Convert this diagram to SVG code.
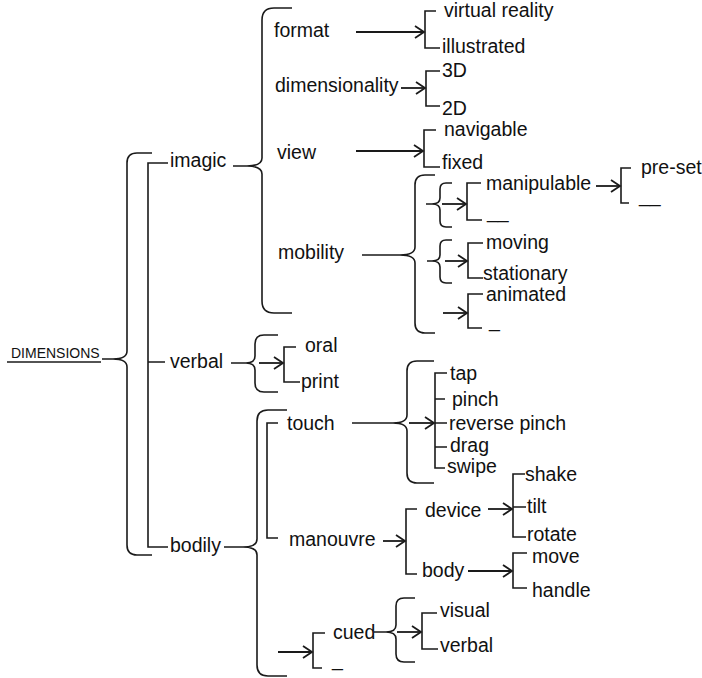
<svg xmlns="http://www.w3.org/2000/svg" width="702" height="678" viewBox="0 0 702 678">
<defs>
<style>
.ln{fill:none;stroke:#1a1a1a;stroke-width:1.6;stroke-linecap:butt}
.ar{fill:none;stroke:#1a1a1a;stroke-width:1.8;marker-end:url(#ah)}
text{font-family:"Liberation Sans",Arial,sans-serif;font-size:19.5px;fill:#111}
.small{font-size:14px}
</style>
<marker id="ah" markerUnits="userSpaceOnUse" markerWidth="14" markerHeight="16" refX="10" refY="7" orient="auto" overflow="visible">
<path d="M1 1 L10 7 L1 13" fill="none" stroke="#1a1a1a" stroke-width="1.8"/>
</marker>
</defs>
<rect width="702" height="678" fill="#fff"/>

<g id="connectors">
<!-- braces -->
<path class="ln" d="M102 359 L113 359 M152 153 L137 153 Q127 153 127 163 L127 351 Q127 359 113 359 Q127 359 127 367 L127 545 Q127 555 137 555 L152 555"/>
<path class="ln" d="M168 163 L148 163 L148 547 L168 547 M148 362 L165 362"/>
<path class="ln" d="M233 166 L247 166 M292 8 L274 8 Q262 8 262 20 L262 158 Q262 166 247 166 Q262 166 262 174 L262 301 Q262 313 274 313 L292 313"/>
<path class="ln" d="M362 255 L400 255 M435 175 L425 175 Q415 175 415 185 L415 247 Q415 255 400 255 Q415 255 415 263 L415 323 Q415 333 425 333 L435 333"/>
<path class="ln" d="M426 204 L432 204 M452 183 L446 183 Q440 183 440 189 L440 198 Q440 204 432 204 Q440 204 440 210 L440 221 Q440 227 446 227 L452 227"/>
<path class="ln" d="M427 261 L432 261 M452 240 L446 240 Q440 240 440 246 L440 255 Q440 261 432 261 Q440 261 440 267 L440 277 Q440 283 446 283 L452 283"/>
<path class="ln" d="M231 363 L246 363 M278 335 L264 335 Q255 335 255 344 L255 356 Q255 363 246 363 Q255 363 255 370 L255 383 Q255 392 264 392 L278 392"/>
<path class="ln" d="M224 547 L243 547 M287 410 L268 410 Q257 410 257 421 L257 539 Q257 547 243 547 Q257 547 257 555 L257 665 Q257 676 268 676 L287 676"/>
<path class="ln" d="M352 423 L393 423 M434 361 L417 361 Q407 361 407 371 L407 415 Q407 423 393 423 Q407 423 407 431 L407 473 Q407 483 417 483 L434 483"/>
<path class="ln" d="M374 632 L386 632 M415 598 L404 598 Q396 598 396 606 L396 625 Q396 632 386 632 Q396 632 396 639 L396 654 Q396 662 404 662 L415 662"/>
<!-- brackets -->
<path class="ln" d="M436 11 L425 11 L425 48 L440 48"/>
<path class="ln" d="M440 71 L426 71 L426 106 L440 106"/>
<path class="ln" d="M436 130 L424 130 L424 167 L440 167"/>
<path class="ln" d="M481 183 L467 183 L467 220 L482 220"/>
<path class="ln" d="M483 243 L468 243 L468 278 L483 278"/>
<path class="ln" d="M483 294 L468 294 L468 328 L482 328"/>
<path class="ln" d="M631 168 L621 168 L621 203 L629 203"/>
<path class="ln" d="M296 347 L284 347 L284 382 L300 382"/>
<path class="ln" d="M278 423 L267 423 L267 538 L278 538"/>
<path class="ln" d="M447 373 L435 373 L435 468 L445 468 M435 399 L445 399 M435 423 L447 423 M435 447 L447 447"/>
<path class="ln" d="M417 509 L406 509 L406 574 L417 574"/>
<path class="ln" d="M525 474 L513 474 L513 537 L526 537 M513 507 L526 507"/>
<path class="ln" d="M527 553 L513 553 L513 588 L527 588"/>
<path class="ln" d="M325 633 L313 633 L313 668 L322 668"/>
<path class="ln" d="M437 613 L422 613 L422 649 L438 649"/>
<!-- arrows -->
<line class="ar" x1="356" y1="32" x2="424" y2="32"/>
<line class="ar" x1="401" y1="88" x2="425" y2="88"/>
<line class="ar" x1="356" y1="151" x2="423" y2="151"/>
<line class="ar" x1="442" y1="204" x2="466" y2="204"/>
<line class="ar" x1="445" y1="261" x2="467" y2="261"/>
<line class="ar" x1="443" y1="313" x2="467" y2="313"/>
<line class="ar" x1="596" y1="186" x2="620" y2="186"/>
<line class="ar" x1="259" y1="363" x2="283" y2="363"/>
<line class="ar" x1="409" y1="423" x2="434" y2="423"/>
<line class="ar" x1="383" y1="541" x2="405" y2="541"/>
<line class="ar" x1="488" y1="509" x2="512" y2="509"/>
<line class="ar" x1="468" y1="571" x2="512" y2="571"/>
<line class="ar" x1="278" y1="652" x2="312" y2="652"/>
<line class="ar" x1="397" y1="632" x2="421" y2="632"/>
</g>

<g id="n-dimensions"><text class="small" x="11" y="358">DIMENSIONS</text><line class="ln" x1="7" y1="362" x2="101" y2="362"/></g>
<g id="n-imagic"><text x="170" y="167">imagic</text></g>
<g id="n-verbal"><text x="170" y="368">verbal</text></g>
<g id="n-bodily"><text x="170" y="552">bodily</text></g>
<g id="n-format"><text x="274" y="37">format</text></g>
<g id="n-dimensionality"><text x="275" y="92">dimensionality</text></g>
<g id="n-view"><text x="277" y="159">view</text></g>
<g id="n-mobility"><text x="278" y="259">mobility</text></g>
<g id="n-virtual-reality"><text x="444" y="17">virtual reality</text></g>
<g id="n-illustrated"><text x="442" y="53">illustrated</text></g>
<g id="n-3d"><text x="442" y="77">3D</text></g>
<g id="n-2d"><text x="442" y="115">2D</text></g>
<g id="n-navigable"><text x="444" y="136">navigable</text></g>
<g id="n-fixed"><text x="442" y="169">fixed</text></g>
<g id="n-manipulable"><text x="486" y="190">manipulable</text></g>
<g id="n-blank1"><text x="487" y="218">__</text></g>
<g id="n-pre-set"><text x="641" y="174">pre-set</text></g>
<g id="n-blank2"><text x="639" y="202">__</text></g>
<g id="n-moving"><text x="486" y="249">moving</text></g>
<g id="n-stationary"><text x="483" y="280">stationary</text></g>
<g id="n-animated"><text x="486" y="301">animated</text></g>
<g id="n-blank3"><text x="489" y="327">_</text></g>
<g id="n-oral"><text x="305" y="352">oral</text></g>
<g id="n-print"><text x="301" y="388">print</text></g>
<g id="n-touch"><text x="287" y="430">touch</text></g>
<g id="n-manouvre"><text x="289" y="546">manouvre</text></g>
<g id="n-tap"><text x="450" y="380">tap</text></g>
<g id="n-pinch"><text x="452" y="406">pinch</text></g>
<g id="n-reverse-pinch"><text x="449" y="430">reverse pinch</text></g>
<g id="n-drag"><text x="450" y="452">drag</text></g>
<g id="n-swipe"><text x="447" y="473">swipe</text></g>
<g id="n-device"><text x="425" y="517">device</text></g>
<g id="n-body"><text x="422" y="577">body</text></g>
<g id="n-shake"><text x="525" y="481">shake</text></g>
<g id="n-tilt"><text x="527" y="513">tilt</text></g>
<g id="n-rotate"><text x="527" y="541">rotate</text></g>
<g id="n-move"><text x="532" y="563">move</text></g>
<g id="n-handle"><text x="532" y="597">handle</text></g>
<g id="n-cued"><text x="333" y="639">cued</text></g>
<g id="n-blank4"><text x="332" y="666">_</text></g>
<g id="n-visual"><text x="440" y="617">visual</text></g>
<g id="n-verbal2"><text x="440" y="652">verbal</text></g>
</svg>
